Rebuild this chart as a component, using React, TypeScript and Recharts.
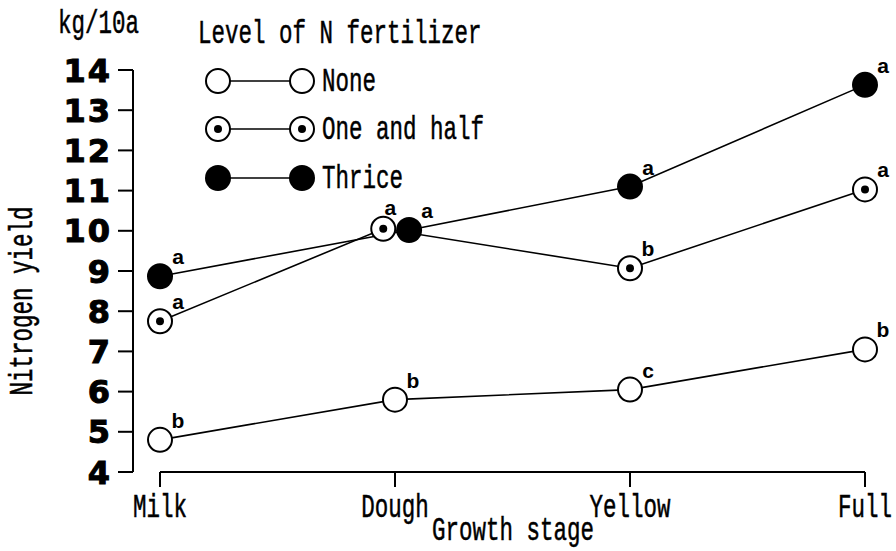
import {
  LineChart,
  Line,
  XAxis,
  YAxis,
  ReferenceLine,
  Legend,
  LabelList,
  Label,
} from "recharts";

const STAGES = ["Milk", "Dough", "Yellow", "Full"];
const STAGE_TICKS = [0, 1, 2, 3];
const YIELD_TICKS = [4, 5, 6, 7, 8, 9, 10, 11, 12, 13, 14];

// nitrogen yield, kg/10a
const NONE = [4.8, 5.8, 6.05, 7.05];
const ONE_AND_HALF = [7.75, 10.05, 9.07, 11.03];
const THRICE = [8.87, 10.02, 11.1, 13.63];

// significance letters per stage
const NONE_SIG = ["b", "b", "c", "b"];
const ONE_AND_HALF_SIG = ["a", "a", "b", "a"];
const THRICE_SIG = ["a", "a", "a", "a"];

// horizontal dodge (stage units) so overlapping markers sit side by side
const NO_DODGE = [0, 0, 0, 0];
const ONE_AND_HALF_DODGE = [0, -0.05, 0, 0];
const THRICE_DODGE = [0, 0.06, 0, 0];

type Kind = "none" | "half" | "thrice";

const toPoints = (values: number[], sig: string[], dodge: number[]) =>
  values.map((v, i) => ({ x: i + dodge[i], y: v, sig: sig[i], dodge: dodge[i] }));

const nonePts = toPoints(NONE, NONE_SIG, NO_DODGE);
const halfPts = toPoints(ONE_AND_HALF, ONE_AND_HALF_SIG, ONE_AND_HALF_DODGE);
const thricePts = toPoints(THRICE, THRICE_SIG, THRICE_DODGE);

const STRETCH = 1.5;

function Mincho({
  x,
  y,
  anchor = "start",
  rotate = 0,
  children,
}: {
  x: number;
  y: number;
  anchor?: "start" | "middle" | "end";
  rotate?: number;
  children: React.ReactNode;
}) {
  return (
    <text
      transform={`translate(${x},${y}) rotate(${rotate}) scale(1,${STRETCH})`}
      textAnchor={anchor}
      fontFamily="Liberation Mono"
      fontSize={22.5}
      fill="#000"
      stroke="#000"
      strokeWidth={0.35}
    >
      {children}
    </text>
  );
}

function Marker({ cx, cy, kind }: { cx: number; cy: number; kind: Kind }) {
  if (kind === "thrice") return <circle cx={cx} cy={cy} r={13} fill="#000" />;
  return (
    <g>
      <circle cx={cx} cy={cy} r={12} fill="#fff" stroke="#000" strokeWidth={2} />
      {kind === "half" && <circle cx={cx} cy={cy} r={4} fill="#000" />}
    </g>
  );
}

const dotFor = (kind: Kind) => (p: any) =>
  <Marker key={`${kind}-${p.index}`} cx={p.cx} cy={p.cy} kind={kind} />;

const sigFor = (dodge: number[]) => (p: any) => {
  const dx = dodge[p.index] < 0 ? 7 : 18;
  const dy = dodge[p.index] < 0 ? -14 : -12;
  return (
    <text
      key={`sig-${p.index}`}
      x={p.x + dx}
      y={p.y + dy}
      textAnchor="middle"
      fontFamily="Liberation Sans"
      fontWeight="bold"
      fontSize={21}
      fill="#000"
    >
      {p.value}
    </text>
  );
};

function StageTick({ x, y, payload }: any) {
  return (
    <Mincho x={x} y={y + 28} anchor="middle">
      {STAGES[payload.value]}
    </Mincho>
  );
}

function YieldTick({ x, y, payload }: any) {
  return (
    <text
      x={x - 4}
      y={y + 11.5}
      textAnchor="end"
      fontFamily="DejaVu Sans"
      fontWeight="bold"
      fontSize={32}
      letterSpacing={2}
      fill="#000"
      stroke="#000"
      strokeWidth={1}
    >
      {payload.value}
    </text>
  );
}

const LEGEND_ORDER: { name: string; kind: Kind }[] = [
  { name: "None", kind: "none" },
  { name: "One and half", kind: "half" },
  { name: "Thrice", kind: "thrice" },
];
const ROW_Y = [81, 129, 178];

function FertilizerLegend({ payload }: any) {
  const names = (payload ?? []).map((e: any) => e.value);
  const rows = LEGEND_ORDER.filter((r) => names.includes(r.name));
  return (
    <svg width={320} height={200}>
      <Mincho x={8} y={43}>Level of N fertilizer</Mincho>
      {rows.map((r, i) => (
        <g key={r.name}>
          <line x1={28} x2={112} y1={ROW_Y[i]} y2={ROW_Y[i]} stroke="#000" strokeWidth={1.5} />
          <Marker cx={28} cy={ROW_Y[i]} kind={r.kind} />
          <Marker cx={112} cy={ROW_Y[i]} kind={r.kind} />
          <Mincho x={132} y={ROW_Y[i] + 10}>{r.name}</Mincho>
        </g>
      ))}
    </svg>
  );
}

export default function App() {
  return (
    <div style={{ position: "absolute", left: 0, top: 0, background: "#fff" }}>
      <LineChart
        width={896}
        height={551}
        margin={{ top: 70, right: 31, bottom: 0, left: 0 }}
      >
        <XAxis
          type="number"
          dataKey="x"
          domain={[0, 3]}
          ticks={STAGE_TICKS}
          padding={{ left: 27, right: 0 }}
          axisLine={false}
          tickLine={{ stroke: "#000", strokeWidth: 2 }}
          tickSize={15}
          tick={<StageTick />}
          height={79}
          interval={0}
        >
          <Label
            content={() => (
              <Mincho x={513} y={540} anchor="middle">
                Growth stage
              </Mincho>
            )}
          />
        </XAxis>
        <YAxis
          type="number"
          dataKey="y"
          domain={[4, 14]}
          ticks={YIELD_TICKS}
          width={133}
          axisLine={{ stroke: "#000", strokeWidth: 2 }}
          tickLine={{ stroke: "#000", strokeWidth: 2 }}
          tickSize={15}
          tick={<YieldTick />}
          interval={0}
        >
          <Label
            content={() => (
              <g>
                <Mincho x={32} y={301} anchor="middle" rotate={-90}>
                  Nitrogen yield
                </Mincho>
                <Mincho x={58} y={33}>kg/10a</Mincho>
              </g>
            )}
          />
        </YAxis>
        <ReferenceLine
          segment={[
            { x: 0, y: 4 },
            { x: 3, y: 4 },
          ]}
          stroke="#000"
          strokeWidth={2}
        />
        <Legend
          layout="vertical"
          align="center"
          verticalAlign="middle"
          content={<FertilizerLegend />}
          wrapperStyle={{ left: 190, top: 0, width: 320, height: 200 }}
        />
        <Line
          data={nonePts}
          dataKey="y"
          name="None"
          stroke="#000"
          strokeWidth={1.6}
          dot={dotFor("none")}
          activeDot={false}
          isAnimationActive={false}
        >
          <LabelList dataKey="sig" content={sigFor(NO_DODGE)} />
        </Line>
        <Line
          data={thricePts}
          dataKey="y"
          name="Thrice"
          stroke="#000"
          strokeWidth={1.6}
          dot={dotFor("thrice")}
          activeDot={false}
          isAnimationActive={false}
        >
          <LabelList dataKey="sig" content={sigFor(THRICE_DODGE)} />
        </Line>
        <Line
          data={halfPts}
          dataKey="y"
          name="One and half"
          stroke="#000"
          strokeWidth={1.6}
          dot={dotFor("half")}
          activeDot={false}
          isAnimationActive={false}
        >
          <LabelList dataKey="sig" content={sigFor(ONE_AND_HALF_DODGE)} />
        </Line>
      </LineChart>
    </div>
  );
}
